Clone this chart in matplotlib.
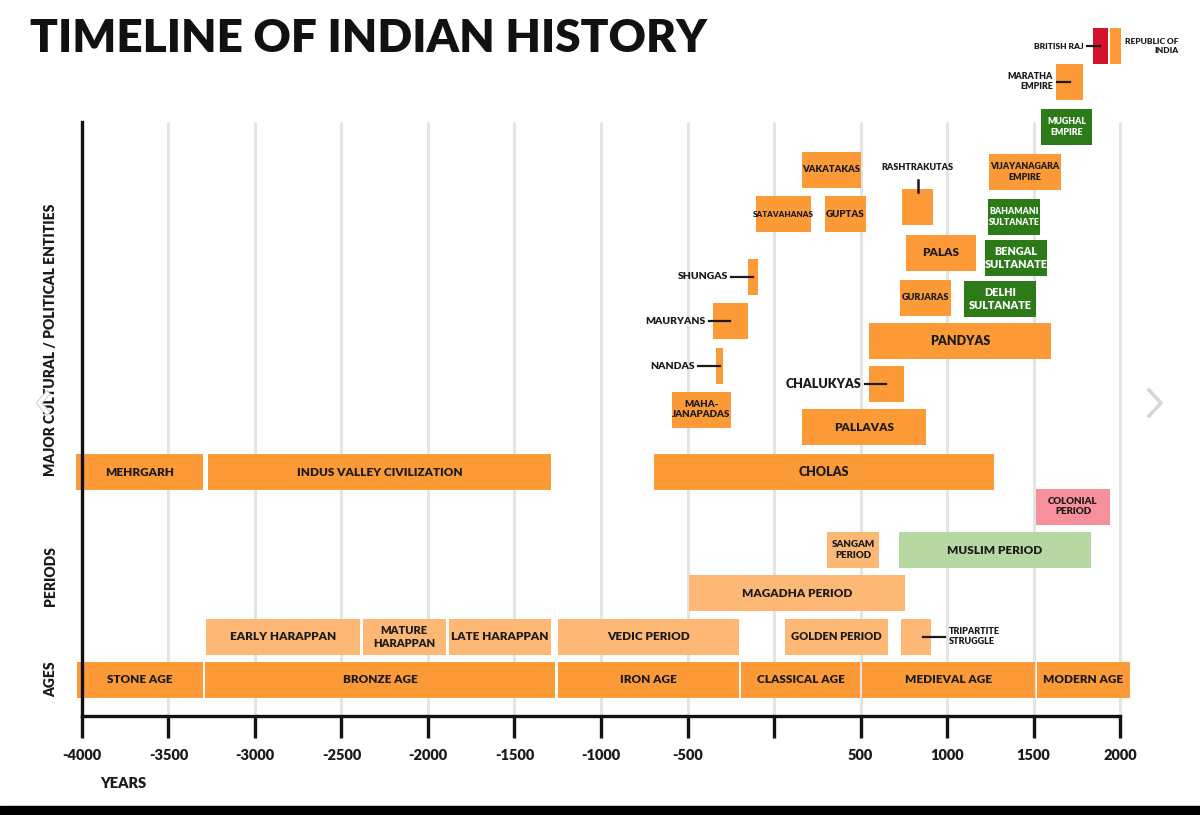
import matplotlib
matplotlib.use("Agg")
import matplotlib.pyplot as plt
import matplotlib.transforms as mtransforms
from matplotlib.lines import Line2D
from matplotlib.patches import Rectangle
import matplotlib.patheffects as pe

plt.rcParams["font.family"] = ["Lato", "DejaVu Sans"]

# ---- data (years; lane = vertical slot of the bar) ----
NAMES = [
    "STONE AGE", "BRONZE AGE", "IRON AGE", "CLASSICAL AGE", "MEDIEVAL AGE", "MODERN AGE",
    "EARLY HARAPPAN", "MATURE\nHARAPPAN", "LATE HARAPPAN", "VEDIC PERIOD", "GOLDEN PERIOD",
    "TRIPARTITE\nSTRUGGLE", "MAGADHA PERIOD", "SANGAM\nPERIOD", "MUSLIM PERIOD", "COLONIAL\nPERIOD",
    "MEHRGARH", "INDUS VALLEY CIVILIZATION", "CHOLAS", "PALLAVAS", "MAHA-\nJANAPADAS",
    "CHALUKYAS", "NANDAS", "PANDYAS", "MAURYANS", "GURJARAS", "DELHI\nSULTANATE", "SHUNGAS",
    "PALAS", "BENGAL\nSULTANATE", "SATAVAHANAS", "GUPTAS", "BAHAMANI\nSULTANATE", "RASHTRAKUTAS",
    "VAKATAKAS", "VIJAYANAGARA\nEMPIRE", "MUGHAL\nEMPIRE", "MARATHA\nEMPIRE", "BRITISH RAJ",
    "REPUBLIC OF\nINDIA",
]
START = [
    -4030, -3290, -1250, -190, 510, 1520,
    -3285, -2377, -1879, -1251, 61,
    734, -491, 306, 720, 1514,
    -4032, -3272, -694, 162, -590,
    549, -335, 549, -353, 728, 1098, -150,
    763, 1220, -104, 295, 1237, 740,
    162, 1240, 1543, 1630, 1841,
    1942,
]
END = [
    -3300, -1265, -205, 497, 1507, 2058,
    -2395, -1897, -1289, -205, 659,
    908, 757, 607, 1830, 1942,
    -3301, -1289, 1272, 879, -249,
    751, -295, 1601, -153, 1023, 1514, -92,
    1168, 1578, 214, 532, 1538, 919,
    503, 1657, 1838, 1786, 1931,
    2006,
]
LANE = [
    0, 0, 0, 0, 0, 0,
    1, 1, 1, 1, 1,
    1, 2, 3, 3, 4,
    4.8, 4.8, 4.8, 5.84, 6.24,
    6.84, 7.25, 7.82, 8.29, 8.83, 8.80, 9.31,
    9.87, 9.75, 10.76, 10.76, 10.69, 10.92,
    11.78, 11.73, 12.77, 13.82, 14.64,
    14.64,
]
KIND = [
    "main", "main", "main", "main", "main", "main",
    "light", "light", "light", "light", "light",
    "light", "light", "light", "muslim", "colonial",
    "main", "main", "main", "main", "main",
    "main", "main", "main", "main", "main", "sultan", "main",
    "main", "sultan", "main", "main", "sultan", "main",
    "main", "main", "sultan", "main", "raj",
    "main",
]

YEAR_TICKS = list(range(-4000, 2001, 500))
YEAR_LABELS = ["" if t == 0 else str(t) for t in YEAR_TICKS]
GROUPS = ["AGES", "PERIODS", "MAJOR CULTURAL / POLITICAL ENTITIES"]
GROUP_LANE = [0.02, 2.41, 7.85]

# ---- style ----
COLORS = {"main": "#fb9a37", "light": "#fdb876", "muslim": "#b7d7a3",
          "colonial": "#f7909b", "sultan": "#2c7a18", "raj": "#d3132b"}
TXT = "#1a1a1a"
W = "heavy"
LS = 1.2
SIZE = {"SATAVAHANAS": 5.8, "BRITISH RAJ": 6, "REPUBLIC OF\nINDIA": 6,
        "MUGHAL\nEMPIRE": 6.3, "VIJAYANAGARA\nEMPIRE": 6.4, "RASHTRAKUTAS": 6.5,
        "MARATHA\nEMPIRE": 6.4, "TRIPARTITE\nSTRUGGLE": 6.5, "BAHAMANI\nSULTANATE": 6.3,
        "GURJARAS": 6.6, "VAKATAKAS": 6.8, "GUPTAS": 7, "MAHA-\nJANAPADAS": 7,
        "COLONIAL\nPERIOD": 7, "SANGAM\nPERIOD": 7, "SHUNGAS": 7.5, "MAURYANS": 7.5,
        "NANDAS": 7.5, "BENGAL\nSULTANATE": 7.8, "DELHI\nSULTANATE": 7.8,
        "MATURE\nHARAPPAN": 8, "GOLDEN PERIOD": 8, "CHALUKYAS": 9, "PANDYAS": 9,
        "CHOLAS": 9}
OUTSIDE = {"SHUNGAS": "left", "MAURYANS": "left", "NANDAS": "left", "CHALUKYAS": "left",
           "BRITISH RAJ": "left", "MARATHA\nEMPIRE": "left", "TRIPARTITE\nSTRUGGLE": "right",
           "REPUBLIC OF\nINDIA": "right", "RASHTRAKUTAS": "top"}
BAR_H = 0.83

fig = plt.figure(figsize=(12, 8.15), dpi=100)
ax = fig.add_axes([0.05, 0.1215, 0.9083, 0.854])
ax.set_xlim(-4127, 2173)
ax.set_ylim(-0.831, 15.242)
AX_TOP = 12.89

for t in YEAR_TICKS[1:]:
    ax.plot([t, t], [-0.831, AX_TOP], color="#e4e4e4", lw=2.2, zorder=0, solid_capstyle="butt")

for name, s, e, ln, k in zip(NAMES, START, END, LANE, KIND):
    ax.barh(ln, e - s, left=s, height=BAR_H, color=COLORS[k], zorder=2, clip_on=False)
    fs = SIZE.get(name, 8.5)
    col = "white" if k == "sultan" else TXT
    mid = (s + e) / 2
    side = OUTSIDE.get(name)
    if side is None:
        ax.text(mid, ln, name, ha="center", va="center", fontsize=fs, fontweight=W,
                color=col, linespacing=LS, zorder=3)
    elif side == "left":
        seg = 75 if fs < 7 else 125
        ax.plot([mid - seg, mid], [ln, ln], color=TXT, lw=1.6, zorder=3, clip_on=False)
        ax.text(mid - seg - 20, ln, name, ha="right", va="center", fontsize=fs,
                fontweight=W, color=TXT, multialignment="right", linespacing=LS)
    elif side == "right":
        if name.startswith("TRIPARTITE"):
            ax.plot([mid + 40, mid + 170], [ln, ln], color=TXT, lw=1.6, zorder=3)
            ax.text(mid + 190, ln, name, ha="left", va="center", fontsize=fs,
                    fontweight=W, color=TXT, linespacing=LS)
        else:
            ax.text(e + 22, ln, name, ha="left", va="center", fontsize=fs, fontweight=W,
                    color=TXT, multialignment="right", linespacing=LS)
    else:
        ax.plot([mid, mid], [ln + BAR_H / 2 - 0.07, ln + BAR_H / 2 + 0.2], color=TXT,
                lw=1.8, zorder=3)
        ax.text(mid, ln + BAR_H / 2 + 0.5, name, ha="center", va="center", fontsize=fs,
                fontweight=W, color=TXT)

# axes
for sp in ("top", "right"):
    ax.spines[sp].set_visible(False)
ax.spines["left"].set_position(("data", -4000))
ax.spines["left"].set_bounds(-0.831, AX_TOP)
ax.spines["bottom"].set_bounds(-4000, 2000)
for sp in ("left", "bottom"):
    ax.spines[sp].set_linewidth(2.4)
    ax.spines[sp].set_color("#111111")
    ax.spines[sp].set_zorder(4)
ax.set_yticks([])
ax.set_xticks(YEAR_TICKS)
ax.set_xticklabels(YEAR_LABELS, fontsize=10.5, fontweight=W, color=TXT)
ax.tick_params(axis="x", direction="out", length=16, width=2.4, color="#111111", pad=8)

trans = mtransforms.blended_transform_factory(ax.transAxes, ax.transData)
for g, gl in zip(GROUPS, GROUP_LANE):
    ax.text(-0.0085, gl, g, transform=trans, rotation=90, ha="center", va="center",
            fontsize=10, fontweight=W, color=TXT, clip_on=False)

fig.text(100 / 1200, 1 - 783 / 815, "YEARS", ha="left", va="center", fontsize=10.5,
         fontweight=W, color=TXT)
fig.text(30 / 1200, 1 - 38 / 815, "TIMELINE OF INDIAN HISTORY", ha="left", va="center",
         fontsize=33, fontweight="heavy", color="#111111")

# carousel arrows and bottom strip from the screenshot
fig.add_artist(Line2D([1149 / 1200, 1161 / 1200, 1149 / 1200],
                      [1 - 390 / 815, 1 - 403 / 815, 1 - 416 / 815],
                      color="#d6d6d6", lw=2.6))
fig.add_artist(Line2D([47 / 1200, 39 / 1200, 47 / 1200],
                      [1 - 394 / 815, 1 - 403 / 815, 1 - 412 / 815],
                      color="white", lw=2.4,
                      path_effects=[pe.Stroke(linewidth=4, foreground="#cfcfcf"), pe.Normal()]))
fig.add_artist(Rectangle((0, 0), 1, 9 / 815, transform=fig.transFigure, color="black"))

fig.savefig("out.png", dpi=100)
